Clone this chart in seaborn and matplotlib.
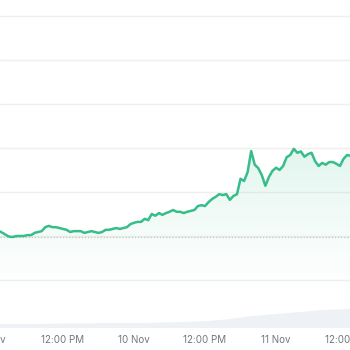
import numpy as np
import pandas as pd
import matplotlib
matplotlib.use("Agg")
import matplotlib.pyplot as plt
import seaborn as sns
from matplotlib.patches import PathPatch

# ---- data ----
start_hour = 1.2
step_hours = 0.6
prices = [111.1, 110.7, 110.2, 109.8, 109.8, 110.0, 110.0, 110.0, 110.2, 110.2,
          110.7, 110.9, 111.1, 112.0, 112.3, 112.0, 112.0, 111.8, 111.6, 111.4,
          110.9, 111.1, 111.1, 111.1, 110.7, 110.9, 111.1, 110.9, 110.7, 110.9,
          111.4, 111.4, 111.6, 111.8, 111.6, 111.8, 112.0, 112.7, 113.0, 113.2,
          113.2, 113.9, 113.6, 115.0, 114.6, 115.2, 114.8, 115.2, 115.5, 115.9,
          115.5, 115.5, 115.2, 115.5, 115.7, 115.9, 116.8, 117.0, 116.8, 117.7,
          118.4, 118.9, 119.5, 119.3, 119.5, 118.2, 119.1, 119.5, 123.0, 122.5,
          124.5, 129.3, 126.2, 125.4, 123.8, 121.4, 123.4, 124.8, 125.5, 125.0,
          125.9, 127.9, 128.4, 129.8, 128.9, 129.2, 128.0, 128.6, 128.9, 127.0,
          125.9, 126.6, 126.2, 126.8, 126.8, 126.4, 125.9, 127.5, 128.4, 128.2,
          128.4]
hours = [start_hour + step_hours * i for i in range(len(prices))]
reference_price = 109.8

vol_hours = [0, 6, 12, 18, 24, 30, 36, 40, 44, 48, 52, 56, 61]
volumes = [10, 10, 11, 12, 12, 14, 17, 22, 30, 35, 40, 45, 48]

tick_hours = [0, 12, 24, 36, 48, 60]
tick_labels = ["9 Nov", "12:00 PM", "10 Nov", "12:00 PM", "11 Nov", "12:00 PM"]

df = pd.DataFrame({"hour": hours, "price": prices})
vdf = pd.DataFrame({"hour": vol_hours, "volume": volumes})

# ---- figure ----
sns.set_theme(style="white")
plt.rcParams["font.family"] = ["Inter", "DejaVu Sans"]

fig = plt.figure(figsize=(3.5, 3.5), dpi=100)
ax = fig.add_axes([0, 22 / 350, 1, 328 / 350])
ax.set_xlim(1.352, 60.5)
ax.set_ylim(89.1, 163.6)

# gridlines
for g in range(100, 170, 10):
    ax.axhline(g, color="#efefef", lw=1.0, zorder=0)

# volume on twin axis
vax = ax.twinx()
vax.set_ylim(0, 820)
vax.fill_between(vdf["hour"], vdf["volume"], 0, color="#eef1f5", lw=0, zorder=1)
vax.set_axis_off()

ax.set_zorder(vax.get_zorder() + 1)
ax.patch.set_visible(False)

line_color = "#36bd8a"

# gradient fill under price
poly = ax.fill_between(df["hour"], df["price"], 89.1, color="none", lw=0)
grad = np.linspace(0, 1, 256)
rgba = np.zeros((256, 1, 4))
c = matplotlib.colors.to_rgb(line_color)
rgba[:, 0, 0], rgba[:, 0, 1], rgba[:, 0, 2] = c
rgba[:, 0, 3] = (grad ** 1.3) * 0.15
img = ax.imshow(rgba, extent=[1.352, 60.5, 96, 130], origin="lower",
                aspect="auto", zorder=1)
clip = PathPatch(poly.get_paths()[0], transform=ax.transData)
img.set_clip_path(clip)
ax.set_xlim(1.352, 60.5)
ax.set_ylim(89.1, 163.6)

# reference dotted line
ax.axhline(reference_price, color="#c4c4c4", lw=0.9, ls=(0, (1, 1.5)), zorder=2)

sns.lineplot(data=df, x="hour", y="price", ax=ax, color=line_color,
             lw=1.8, zorder=3)

ax.set_xlabel("")
ax.set_ylabel("")
ax.set_xticks([])
ax.set_yticks([])
for s in ax.spines.values():
    s.set_visible(False)

for h, lab in zip(tick_hours, tick_labels):
    ax.text(h, -12 / 328, lab, transform=ax.get_xaxis_transform(),
            ha="center", va="center", fontsize=7, color="#72767e", clip_on=False)

fig.savefig("out.png", dpi=100)
